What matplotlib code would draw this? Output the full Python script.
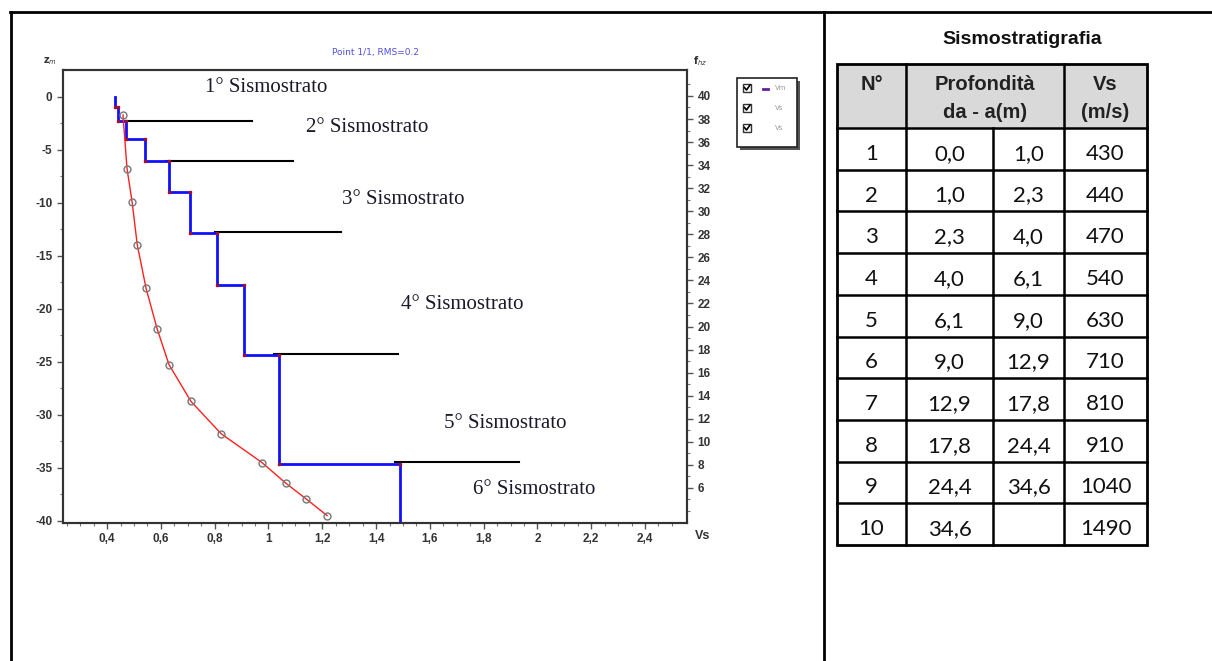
import numpy as np
import matplotlib.pyplot as plt
from matplotlib.patches import Rectangle

plt.rcParams['axes.unicode_minus'] = False

# layer model (table values)
layer_no = [1, 2, 3, 4, 5, 6, 7, 8, 9, 10]
depth_from = [0.0, 1.0, 2.3, 4.0, 6.1, 9.0, 12.9, 17.8, 24.4, 34.6]
depth_to = [1.0, 2.3, 4.0, 6.1, 9.0, 12.9, 17.8, 24.4, 34.6, 40.2]
vs_layer = [430, 440, 470, 540, 630, 710, 810, 910, 1040, 1490]  # m/s

# dispersion curve (Vs km/s vs frequency Hz)
curve_vs = [0.459, 0.474, 0.493, 0.512, 0.545, 0.586, 0.630, 0.712, 0.824, 0.976, 1.065, 1.140, 1.218]
curve_f = [38.35, 33.7, 30.8, 27.1, 23.3, 19.8, 16.7, 13.5, 10.7, 8.2, 6.4, 5.05, 3.6]

# sismostrato boundaries and labels
bound_z = [-2.35, -6.1, -12.75, -24.25, -34.45]
bound_x0 = [0.47, 0.62, 0.80, 1.02, 1.47]
bound_x1 = [0.94, 1.09, 1.27, 1.48, 1.93]
strato_labels = ["1° Sismostrato", "2° Sismostrato", "3° Sismostrato",
                 "4° Sismostrato", "5° Sismostrato", "6° Sismostrato"]
label_x = [0.764, 1.14, 1.274, 1.493, 1.653, 1.76]
label_z = [0.85, -2.9, -9.7, -19.6, -30.8, -37.0]

# table text
da_txt = ["0,0", "1,0", "2,3", "4,0", "6,1", "9,0", "12,9", "17,8", "24,4", "34,6"]
a_txt = ["1,0", "2,3", "4,0", "6,1", "9,0", "12,9", "17,8", "24,4", "34,6", ""]

W, H = 1212, 661
fig = plt.figure(figsize=(W / 100, H / 100), dpi=100)

# overlay in pixel coordinates for frames, legend box and table
bg = fig.add_axes([0, 0, 1, 1])
bg.set_xlim(0, W)
bg.set_ylim(H, 0)
bg.axis('off')
bg.plot([10, W], [12, 12], color='black', lw=2)
bg.plot([11, 11], [12, H], color='black', lw=2)
bg.plot([824, 824], [12, H], color='black', lw=2)

# main plot
x0, x1, y0, y1 = 63, 687, 70, 523
ax = fig.add_axes([x0 / W, 1 - y1 / H, (x1 - x0) / W, (y1 - y0) / H])
ax.set_xlim(0.236, 2.556)
ax.set_ylim(-40.2, 2.5)

# step profile Vm
step_x, step_y = [], []
for top, bot, v in zip(depth_from, depth_to, vs_layer):
    step_x += [v / 1000, v / 1000]
    step_y += [-top, -bot]
ax.plot(step_x, step_y, color='#1010ff', lw=2, zorder=3)
ax.plot(step_x[1:-1], step_y[1:-1], ls='none', marker='s', ms=2, color='#a01030', zorder=4)

for z, xa, xb in zip(bound_z, bound_x0, bound_x1):
    ax.plot([xa, xb], [z, z], color='black', lw=1.5, zorder=2)
for t, lx, lz in zip(strato_labels, label_x, label_z):
    ax.text(lx, lz, t, family='Liberation Serif', fontsize=15, ha='left', va='center', color='#1a1a2a')

ax.set_xticks(np.arange(0.4, 2.41, 0.2))
ax.set_xticks(np.arange(0.25, 2.55, 0.05), minor=True)
ax.set_xticklabels(['0,4', '0,6', '0,8', '1', '1,2', '1,4', '1,6', '1,8', '2', '2,2', '2,4'])
ax.set_yticks(np.arange(-40, 1, 5))
ax.set_yticks(np.arange(-40, 2.5, 2.5), minor=True)
ax.tick_params(which='major', length=4, width=1, color='#555', labelsize=8.5, labelcolor='#333')
ax.tick_params(which='minor', length=2, width=0.8, color='#777')
for lab in ax.get_xticklabels() + ax.get_yticklabels():
    lab.set_fontweight('bold')
    lab.set_family('Liberation Sans')
for s in ax.spines.values():
    s.set_color('#333')
    s.set_linewidth(1.5)

ax2 = ax.twinx()
ax2.set_ylim(2.96, 42.25)
ax2.plot(curve_vs, curve_f, color='#ff2020', lw=1, zorder=3)
ax2.plot(curve_vs, curve_f, ls='none', marker='o', ms=5, mfc='none', mec='#777', mew=1, zorder=4)
ax2.set_yticks(np.arange(6, 41, 2))
ax2.set_yticks(np.arange(4, 42, 1), minor=True)
ax2.tick_params(which='major', length=4, width=1, color='#555', labelsize=8.5, labelcolor='#333')
ax2.tick_params(which='minor', length=2, width=0.8, color='#777')
for lab in ax2.get_yticklabels():
    lab.set_fontweight('bold')
    lab.set_family('Liberation Sans')
for s in ax2.spines.values():
    s.set_color('#333')
    s.set_linewidth(1.5)

# axis captions and title
bg.text(50, 61, r'z$_m$', fontsize=7, color='#333', ha='center', va='center', fontweight='bold')
bg.text(700, 61, r'f$_{hz}$', fontsize=7, color='#333', ha='center', va='center', fontweight='bold')
bg.text(703, 536, 'Vs', fontsize=9, color='#333', ha='center', va='center', fontweight='bold',
        family='Liberation Sans')
bg.text(375, 52, 'Point 1/1, RMS=0.2', fontsize=6.5, color='#5050e0', ha='center', va='center')

# legend box
bg.add_patch(Rectangle((740, 81), 60, 69, facecolor='#555', edgecolor='none'))
bg.add_patch(Rectangle((737, 78), 60, 69, facecolor='white', edgecolor='#222', lw=1.2))
for i, (name, col) in enumerate([('Vm', '#999'), ('Vs', '#999'), ('Vs', '#999')]):
    yy = 88 + 20 * i
    bg.add_patch(Rectangle((743, yy - 4), 8, 8, facecolor='white', edgecolor='#333', lw=1))
    bg.plot([744.5, 746.5, 750], [yy - 0.5, yy + 2, yy - 3], color='black', lw=1.2)
    bg.text(775, yy, name, fontsize=5, color=col, ha='left', va='center')
bg.plot([763, 768], [89, 89], color='#6020a0', lw=2)

# table
bg.text(1022, 39, 'Sismostratigrafia', family='Liberation Sans', fontweight='bold',
        fontsize=14, ha='center', va='center', color='#111')
cols = [837, 906, 993, 1064, 1147]
ytop, yhead = 64, 128
row_h = 41.7
ybot = yhead + row_h * len(layer_no)
bg.add_patch(Rectangle((cols[0], ytop), cols[-1] - cols[0], yhead - ytop, facecolor='#d9d9d9', edgecolor='none'))
bg.add_patch(Rectangle((cols[0], ytop), cols[-1] - cols[0], ybot - ytop, facecolor='none', edgecolor='black', lw=2))
for cx in [cols[1], cols[3]]:
    bg.plot([cx, cx], [ytop, ybot], color='black', lw=1.8)
bg.plot([cols[2], cols[2]], [yhead, ybot], color='black', lw=1.8)
for i in range(len(layer_no)):
    yl = yhead + row_h * i
    bg.plot([cols[0], cols[-1]], [yl, yl], color='black', lw=1.8)

hkw = dict(family='Liberation Sans', fontweight='bold', fontsize=14.5, ha='center', va='center', color='#222')
bg.text((cols[0] + cols[1]) / 2, 84, 'N°', **hkw)
bg.text((cols[1] + cols[3]) / 2, 84, 'Profondità', **hkw)
bg.text((cols[1] + cols[3]) / 2, 113, 'da - a(m)', **hkw)
bg.text((cols[3] + cols[4]) / 2, 84, 'Vs', **hkw)
bg.text((cols[3] + cols[4]) / 2, 113, '(m/s)', **hkw)

nkw = dict(family='Lato', fontsize=16, ha='center', va='center', color='#111')
for i in range(len(layer_no)):
    yc = yhead + row_h * (i + 0.5) + 5
    bg.text((cols[0] + cols[1]) / 2, yc, str(layer_no[i]), **nkw)
    bg.text((cols[1] + cols[2]) / 2, yc, da_txt[i], **nkw)
    bg.text((cols[2] + cols[3]) / 2, yc, a_txt[i], **nkw)
    bg.text((cols[3] + cols[4]) / 2, yc, str(vs_layer[i]), **nkw)

fig.savefig('out.png', dpi=100)
